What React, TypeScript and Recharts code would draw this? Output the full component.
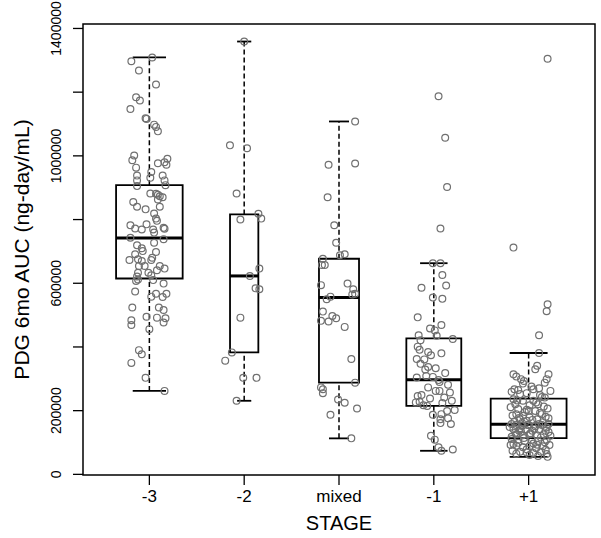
import {
  ComposedChart,
  Scatter,
  XAxis,
  YAxis,
  ReferenceArea,
  ReferenceLine,
} from 'recharts';

const stages = ['-3', '-2', 'mixed', '-1', '+1'];

// boxplot stats per stage (R style: whisker ends, hinges, median)
const whiskerLow = [262000, 231000, 113000, 74000, 55000];
const q1 = [615000, 383000, 288000, 215000, 114000];
const median = [742000, 623000, 555000, 297000, 157000];
const q3 = [908000, 816000, 677000, 427000, 238000];
const whiskerHigh = [1309000, 1359000, 1108000, 663000, 381000];

const yTicks = [0, 200000, 400000, 600000, 800000, 1000000, 1200000, 1400000];
const yLabelled = [0, 200000, 600000, 1000000, 1400000];

// jittered points: [horizontal jitter, value]
const ptsM3: [number, number][] = [
  [0.03, 1309000], [-0.19, 1297000], [-0.11, 1268000], [0.07, 1224000], [-0.14, 1184000],
  [-0.1, 1174000], [-0.2, 1147000], [-0.04, 1118000], [-0.03, 1116000], [0.05, 1098000],
  [0.07, 1091000], [0.09, 1077000], [-0.16, 1001000], [-0.18, 986000], [0.19, 991000],
  [0.16, 980000], [0.18, 972000], [0.09, 977000], [-0.14, 963000], [0.02, 949000],
  [-0.13, 938000], [0.14, 938000], [-0.13, 923000], [0.01, 931000], [0.16, 923000],
  [0.17, 908000], [-0.13, 905000], [0.01, 882000], [0.07, 881000], [0.09, 878000],
  [0.11, 873000], [0.14, 870000], [0.09, 863000], [-0.17, 855000], [-0.13, 840000],
  [0.11, 840000], [-0.04, 832000], [0.05, 819000], [0.07, 803000], [0.08, 796000],
  [-0.2, 782000], [-0.15, 772000], [-0.08, 769000], [-0.03, 785000], [0.04, 769000],
  [0.15, 774000], [0.16, 771000], [0.05, 759000], [-0.2, 743000], [0.15, 738000],
  [-0.13, 719000], [-0.08, 710000], [0.05, 727000], [-0.07, 701000], [-0.15, 691000],
  [0.07, 698000], [-0.21, 673000], [-0.12, 675000], [-0.08, 670000], [0.02, 673000],
  [0.03, 680000], [-0.11, 654000], [-0.05, 654000], [0.11, 654000], [0.16, 646000],
  [0.08, 641000], [-0.12, 633000], [-0.01, 633000], [0.02, 625000], [-0.13, 621000],
  [-0.14, 607000], [-0.12, 612000], [0.04, 610000], [0.15, 599000], [-0.15, 574000],
  [0.07, 567000], [0.18, 567000], [0.02, 558000], [0.14, 557000], [-0.18, 524000],
  [0.1, 524000], [0.15, 516000], [-0.03, 495000], [0.08, 492000], [0.17, 490000],
  [-0.19, 484000], [-0.19, 469000], [0.15, 477000], [0.0, 456000], [-0.11, 390000],
  [-0.08, 377000], [-0.19, 350000], [-0.04, 303000], [0.16, 262000],
];

const ptsM2: [number, number][] = [
  [0.0, 1359000], [-0.15, 1033000], [0.03, 1024000], [-0.08, 882000], [-0.04, 800000],
  [0.15, 818000], [0.18, 803000], [0.16, 646000], [0.06, 623000], [0.12, 584000],
  [0.16, 581000], [-0.04, 492000], [-0.13, 383000], [-0.2, 357000], [-0.01, 303000],
  [0.13, 303000], [-0.08, 231000],
];

const ptsMixed: [number, number][] = [
  [0.17, 1108000], [-0.11, 972000], [0.17, 976000], [-0.12, 870000], [-0.05, 782000],
  [-0.03, 727000], [0.06, 691000], [0.01, 688000], [-0.17, 677000], [-0.18, 657000],
  [-0.15, 657000], [-0.19, 594000], [0.09, 599000], [0.15, 581000], [0.14, 565000],
  [0.17, 567000], [-0.09, 558000], [-0.13, 550000], [-0.17, 511000], [-0.07, 497000],
  [-0.03, 490000], [-0.19, 482000], [-0.11, 480000], [0.06, 463000], [0.13, 362000],
  [0.17, 288000], [-0.19, 273000], [-0.17, 267000], [-0.17, 255000], [-0.01, 235000],
  [0.06, 225000], [0.19, 207000], [-0.09, 187000], [0.13, 113000],
];

const ptsM1: [number, number][] = [
  [0.05, 1187000], [0.12, 1057000], [0.14, 902000], [0.07, 772000], [-0.01, 663000],
  [0.07, 663000], [0.09, 626000], [-0.13, 586000], [0.13, 593000], [-0.01, 555000],
  [0.09, 551000], [-0.17, 493000], [-0.04, 458000], [0.01, 452000], [0.08, 469000],
  [-0.16, 437000], [0.03, 435000], [0.2, 425000], [-0.14, 421000], [-0.17, 401000],
  [-0.15, 391000], [-0.06, 384000], [-0.03, 374000], [0.08, 380000], [-0.18, 362000],
  [-0.1, 361000], [-0.14, 347000], [-0.06, 337000], [0.02, 333000], [-0.18, 304000],
  [-0.08, 309000], [-0.01, 306000], [0.05, 296000], [0.06, 290000], [0.15, 281000],
  [-0.06, 273000], [0.02, 262000], [0.06, 262000], [0.17, 257000], [-0.17, 246000],
  [-0.13, 249000], [-0.04, 238000], [0.11, 241000], [-0.19, 226000], [-0.15, 228000],
  [-0.11, 217000], [-0.07, 215000], [0.09, 224000], [0.19, 231000], [-0.01, 187000],
  [0.08, 189000], [0.14, 199000], [0.22, 202000], [0.07, 173000], [0.15, 176000],
  [0.07, 161000], [0.18, 158000], [-0.03, 121000], [0.01, 109000], [0.05, 85000],
  [0.08, 74000], [0.2, 78000], [-0.09, 329000], [0.12, 318000],
];

const ptsP1: [number, number][] = [
  [0.2, 1305000], [-0.16, 712000], [0.2, 534000], [0.19, 512000], [0.11, 437000],
  [0.11, 381000], [0.09, 341000], [0.07, 330000], [-0.16, 314000], [-0.13, 307000],
  [-0.08, 299000], [-0.05, 293000], [0.21, 314000], [0.19, 299000], [0.17, 288000],
  [-0.15, 267000], [-0.11, 265000], [0.05, 267000], [0.11, 270000], [0.23, 262000],
  [-0.09, 252000], [-0.02, 255000], [0.12, 249000], [0.17, 241000], [-0.16, 236000],
  [-0.06, 231000], [0.05, 231000], [-0.14, 220000], [0.01, 217000], [0.1, 220000],
  [0.16, 213000], [-0.11, 205000], [-0.02, 203000], [0.07, 199000], [0.14, 189000],
  [0.21, 176000], [-0.13, 189000], [-0.06, 184000], [0.01, 179000], [-0.09, 173000],
  [-0.02, 168000], [0.09, 173000], [-0.18, 158000], [-0.13, 155000], [-0.07, 152000],
  [0.0, 155000], [0.07, 151000], [0.14, 155000], [0.21, 158000], [-0.16, 142000],
  [-0.1, 137000], [-0.03, 140000], [0.04, 137000], [0.11, 140000], [0.18, 137000],
  [-0.13, 126000], [-0.06, 123000], [0.01, 126000], [0.09, 123000], [0.16, 126000],
  [0.23, 121000], [-0.18, 111000], [-0.11, 109000], [-0.04, 105000], [0.03, 109000],
  [0.1, 105000], [0.19, 109000], [-0.19, 92000], [-0.13, 90000], [-0.06, 85000],
  [0.01, 88000], [0.08, 82000], [0.15, 88000], [0.22, 92000], [-0.17, 74000],
  [-0.09, 71000], [-0.02, 69000], [0.05, 67000], [0.13, 71000], [0.19, 64000],
  [0.01, 61000], [0.2, 55000], [-0.12, 232000], [0.08, 226000], [-0.19, 211000],
  [0.2, 207000], [-0.04, 196000], [0.12, 193000], [-0.17, 185000], [0.18, 181000],
  [-0.1, 177000], [0.04, 171000], [-0.15, 166000], [0.15, 164000], [-0.07, 161000],
  [0.11, 158000], [-0.01, 155000], [-0.2, 149000], [0.19, 147000], [-0.09, 145000],
  [0.06, 143000], [0.21, 133000], [-0.14, 131000], [0.02, 129000], [-0.18, 118000],
  [0.13, 116000], [-0.05, 114000], [0.17, 101000], [-0.11, 99000], [0.05, 97000],
  [-0.16, 95000], [0.09, 93000], [-0.02, 79000], [0.18, 77000], [-0.13, 65000],
  [0.1, 58000], [-0.06, 285000], [0.03, 276000], [-0.18, 259000], [0.14, 243000],
  [0.0, 200000], [-0.08, 134000],
];

const groups = [ptsM3, ptsM2, ptsMixed, ptsM1, ptsP1];

const font = '"Liberation Sans", Arial, Helvetica, sans-serif';
const xDomain: [number, number] = [0.3, 5.7];
const yDomain: [number, number] = [-2000, 1414000];

// varwidth: box width proportional to sqrt(n)
const maxN = Math.max(...groups.map((g) => g.length));
const halfW = groups.map((g) => 0.4 * Math.sqrt(g.length / maxN));

const Dot = (props: any) => (
  <circle cx={props.cx} cy={props.cy} r={3.4} fill="none" stroke="#707070" strokeWidth={1.2} />
);

const YTick = (props: any) => {
  const { x, y, payload } = props;
  if (!yLabelled.includes(payload.value)) return null;
  const bx = x - 10;
  return (
    <text
      x={bx}
      y={y}
      transform={`rotate(-90 ${bx} ${y})`}
      textAnchor="middle"
      fontSize={14}
      fontFamily={font}
      fill="#000"
    >
      {payload.value}
    </text>
  );
};

const YTitle = (props: any) => {
  const vb = props.viewBox;
  const cx = vb.x + 29;
  const cy = vb.y + vb.height / 2;
  return (
    <text
      x={cx}
      y={cy}
      transform={`rotate(-90 ${cx} ${cy})`}
      textAnchor="middle"
      fontSize={21}
      fontFamily={font}
      fill="#000"
    >
      PDG 6mo AUC (ng-day/mL)
    </text>
  );
};

export default function App() {
  return (
    <div style={{ position: 'absolute', left: 0, top: 0, background: '#fff' }}>
      <ComposedChart width={601} height={538} margin={{ top: 24, right: 6, left: 0, bottom: 0 }}>
        <XAxis
          type="number"
          dataKey="x"
          domain={xDomain}
          ticks={[1, 2, 3, 4, 5]}
          tickFormatter={(v: number) => stages[v - 1]}
          allowDataOverflow
          height={63}
          axisLine={false}
          tickSize={10}
          tickMargin={5}
          tickLine={{ stroke: '#000', strokeWidth: 1.3 }}
          tick={{ fontSize: 17, fontFamily: font, fill: '#000' }}
          label={{ value: 'STAGE', position: 'insideBottom', offset: 8, fontSize: 20, fontFamily: font, fill: '#000' }}
        />
        <YAxis
          type="number"
          dataKey="y"
          domain={yDomain}
          ticks={yTicks}
          allowDataOverflow
          width={83}
          axisLine={false}
          tickSize={10}
          tickLine={{ stroke: '#000', strokeWidth: 1.3 }}
          tick={<YTick />}
          label={{ content: <YTitle /> }}
        />
        {/* plot frame */}
        <ReferenceArea
          x1={xDomain[0]}
          x2={xDomain[1]}
          y1={yDomain[0]}
          y2={yDomain[1]}
          fill="none"
          stroke="#000"
          strokeWidth={1.5}
        />
        {stages.map((s, i) => {
          const c = i + 1;
          const w = halfW[i];
          return [
            <ReferenceLine key={`wl${s}`} segment={[{ x: c, y: whiskerLow[i] }, { x: c, y: q1[i] }]} stroke="#000" strokeWidth={1.5} strokeDasharray="5 3" />,
            <ReferenceLine key={`wh${s}`} segment={[{ x: c, y: q3[i] }, { x: c, y: whiskerHigh[i] }]} stroke="#000" strokeWidth={1.5} strokeDasharray="5 3" />,
            <ReferenceLine key={`cl${s}`} segment={[{ x: c - w / 2, y: whiskerLow[i] }, { x: c + w / 2, y: whiskerLow[i] }]} stroke="#000" strokeWidth={1.8} />,
            <ReferenceLine key={`ch${s}`} segment={[{ x: c - w / 2, y: whiskerHigh[i] }, { x: c + w / 2, y: whiskerHigh[i] }]} stroke="#000" strokeWidth={1.8} />,
            <ReferenceArea key={`bx${s}`} x1={c - w} x2={c + w} y1={q1[i]} y2={q3[i]} fill="none" stroke="#000" strokeWidth={1.8} />,
            <ReferenceLine key={`md${s}`} segment={[{ x: c - w, y: median[i] }, { x: c + w, y: median[i] }]} stroke="#000" strokeWidth={3} />,
          ];
        })}
        {groups.map((g, i) => (
          <Scatter
            key={stages[i]}
            data={g.map(([j, v]) => ({ x: i + 1 + j, y: v }))}
            shape={<Dot />}
            isAnimationActive={false}
          />
        ))}
      </ComposedChart>
    </div>
  );
}
